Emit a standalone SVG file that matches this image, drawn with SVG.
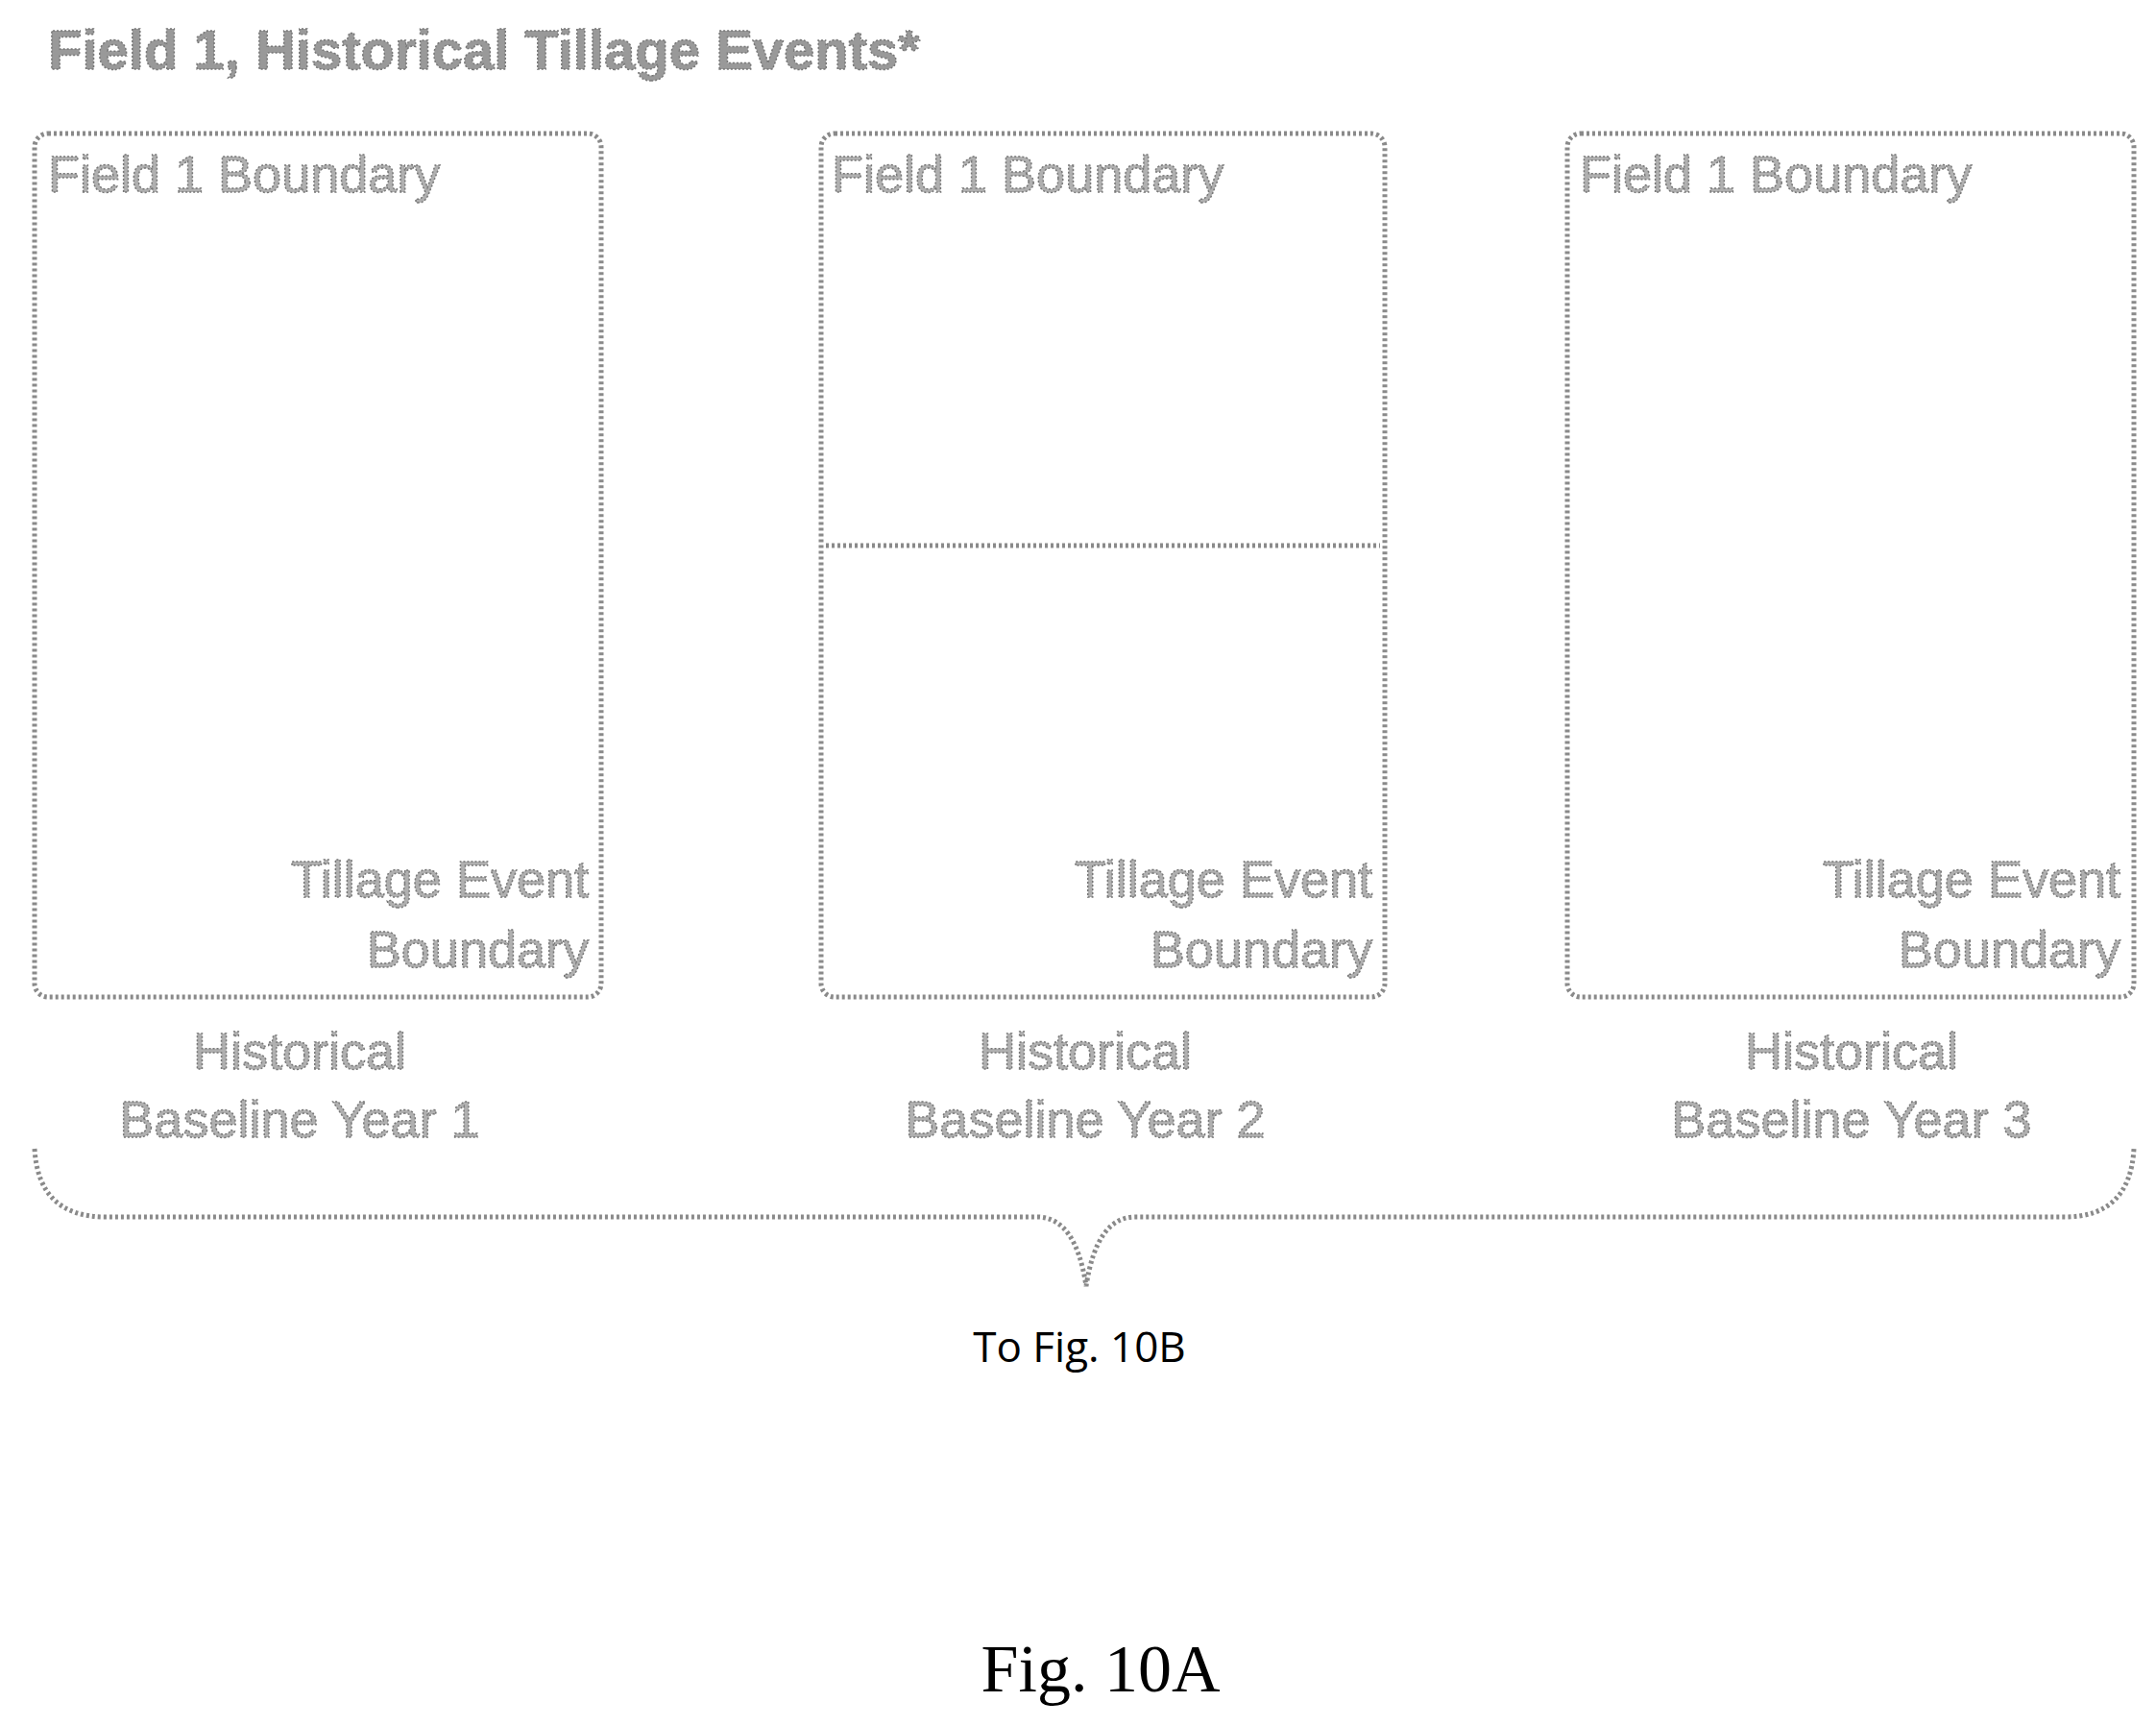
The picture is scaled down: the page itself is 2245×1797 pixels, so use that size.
<svg xmlns="http://www.w3.org/2000/svg" width="2245" height="1797" viewBox="0 0 2245 1797">
<style>
.box{fill:none;stroke:#8a8a8a;stroke-width:5;stroke-dasharray:3 3;}
.t{font-family:"Liberation Sans",Arial,sans-serif;fill:#b0b0b0;stroke:#777;stroke-width:1.5;stroke-dasharray:2 2;font-size:54px;}
.c{text-anchor:middle;}
.r{text-anchor:end;}
</style>
<rect width="2245" height="1797" fill="#fff"/>
<text x="50" y="72" class="t" style="font-weight:bold;font-size:58px;fill:#999">Field 1, Historical Tillage Events*</text>
<g id="year1">
<rect x="36" y="139" width="590" height="899" rx="14" class="box"/>
<text x="50" y="200" class="t">Field 1 Boundary</text>
<text x="613" y="934" class="t r">Tillage Event</text>
<text x="613" y="1007" class="t r">Boundary</text>
<text x="312" y="1113" class="t c">Historical</text>
<text x="312" y="1184" class="t c">Baseline Year 1</text>
</g>
<g id="year2">
<rect x="855" y="139" width="587" height="899" rx="14" class="box"/>
<line x1="860" y1="568" x2="1437" y2="568" class="box"/>
<text x="866" y="200" class="t">Field 1 Boundary</text>
<text x="1429" y="934" class="t r">Tillage Event</text>
<text x="1429" y="1007" class="t r">Boundary</text>
<text x="1130" y="1113" class="t c">Historical</text>
<text x="1130" y="1184" class="t c">Baseline Year 2</text>
</g>
<g id="year3">
<rect x="1632" y="139" width="590" height="899" rx="14" class="box"/>
<text x="1645" y="200" class="t">Field 1 Boundary</text>
<text x="2208" y="934" class="t r">Tillage Event</text>
<text x="2208" y="1007" class="t r">Boundary</text>
<text x="1928" y="1113" class="t c">Historical</text>
<text x="1928" y="1184" class="t c">Baseline Year 3</text>
</g>
<g id="connectors">
<path d="M36 1196 Q40 1267 110 1267 L1080 1267 Q1120 1267 1131 1339 Q1142 1267 1182 1267 L2150 1267 Q2218 1267 2222 1196" class="box"/>
</g>
<text x="1124" y="1418" style="font-family:'Open Sans','Noto Sans',sans-serif;font-size:44px;text-anchor:middle;fill:#000">To Fig. 10B</text>
<text x="1146" y="1761" style="font-family:'Liberation Serif','Times New Roman',serif;font-size:70px;text-anchor:middle;fill:#000">Fig. 10A</text>
</svg>
